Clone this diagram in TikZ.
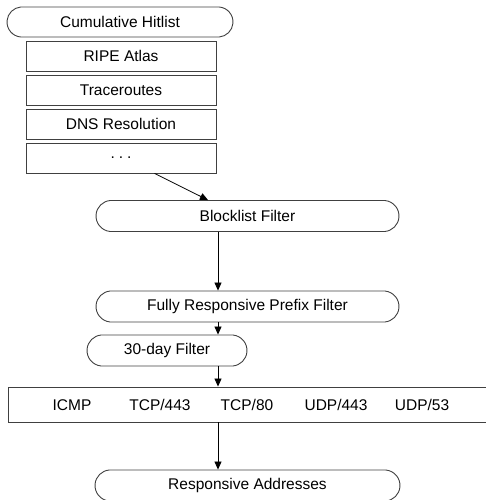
\documentclass[tikz,border=0pt]{standalone}
\usepackage{fontspec}
\setmainfont{Liberation Sans}
\usetikzlibrary{shapes.misc,arrows.meta}
\begin{document}
\begin{tikzpicture}[x=1pt,y=-1pt,
  every node/.style={font=\fontsize{15.5}{18}\selectfont, inner sep=0pt},
  pill/.style={rounded rectangle, draw=black!75, line width=0.9pt, rounded rectangle arc length=170},
  srcbox/.style={rectangle, draw=black!75, line width=0.9pt, minimum width=190pt, minimum height=30pt},
  arr/.style={draw=black, line width=0.8pt, -{Triangle[length=8pt,width=7pt]}}]
\useasboundingbox (0,0) rectangle (485,500);
\coordinate (ax) at (218,0);
\node[pill, minimum width=226pt, minimum height=30pt] (hit) at (120,22) {Cumulative Hitlist};
\node[srcbox] (ripe) at (121,56) {RIPE Atlas};
\node[srcbox] (trace) at (121,90) {Traceroutes};
\node[srcbox] (dns) at (121,124) {DNS Resolution};
\node[srcbox] (dots) at (121,158) {.\hspace{4pt}.\hspace{4pt}.};
\node[pill, minimum width=303pt, minimum height=31pt] (block) at (247.5,216) {Blocklist Filter};
\node[pill, minimum width=303pt, minimum height=31pt] (fully) at (247.5,306.5) {Fully Responsive Prefix Filter};
\node[pill, minimum width=160pt, minimum height=31pt] (thirty) at (167,350.5) {30-day Filter};
\node[rectangle, draw=black!75, line width=0.9pt, minimum width=482pt, minimum height=35pt] (proto) at (249,404.5) {};
\node (icmp) at (72,405) {ICMP};
\node (tcp443) at (160,405) {TCP/443};
\node (tcp80) at (247,405) {TCP/80};
\node (udp443) at (336,405) {UDP/443};
\node (udp53) at (422,405) {UDP/53};
\node[pill, minimum width=305pt, minimum height=31pt] (resp) at (247.5,485.5) {Responsive Addresses};
\draw[arr] ([xshift=129pt]dots.south west) -- ([xshift=-39.5pt]block.north);
\draw[arr] (block.south -| ax) -- (fully.north -| ax);
\draw[arr] (fully.south -| ax) -- (thirty.north -| ax);
\draw[arr] (thirty.south -| ax) -- (proto.north -| ax);
\draw[arr] (proto.south -| ax) -- (resp.north -| ax);
\end{tikzpicture}
\end{document}
